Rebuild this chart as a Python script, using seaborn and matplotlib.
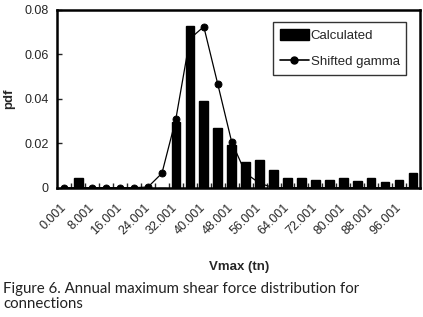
import matplotlib
matplotlib.use("Agg")
import matplotlib.pyplot as plt
import seaborn as sns
import pandas as pd
from matplotlib.patches import Patch
from matplotlib.lines import Line2D
from matplotlib.ticker import FixedLocator

categories = ["0.001", "4.001", "8.001", "12.001", "16.001", "20.001", "24.001",
              "28.001", "32.001", "36.001", "40.001", "44.001", "48.001", "52.001",
              "56.001", "60.001", "64.001", "68.001", "72.001", "76.001", "80.001",
              "84.001", "88.001", "92.001", "96.001", "100.001"]
calculated = [0.0, 0.0042, 0.0, 0.0, 0.0, 0.0, 0.0, 0.0, 0.0297, 0.0728, 0.039,
              0.027, 0.0192, 0.0116, 0.0125, 0.008, 0.0042, 0.0042, 0.0035, 0.0035,
              0.0042, 0.0028, 0.0042, 0.0024, 0.0035, 0.0066]
shifted_gamma = [0.0, 0.0, 0.0, 0.0, 0.0, 0.0, 0.0003, 0.0065, 0.031, 0.067, 0.0725,
                 0.0467, 0.0206, 0.0065, 0.002, 0.0, 0.0, 0.0, 0.0, 0.0, 0.0, 0.0,
                 0.0, 0.0, 0.0, 0.0]
tick_labels = [c if i % 2 == 0 else "" for i, c in enumerate(categories)]
yticks = [0, 0.02, 0.04, 0.06, 0.08]
ytick_labels = ["0", "0.02", "0.04", "0.06", "0.08"]

df = pd.DataFrame({"Vmax": categories, "Calculated": calculated, "Shifted gamma": shifted_gamma})

sns.set_theme(style="white")
plt.rcParams["font.family"] = ["Liberation Sans Narrow", "Liberation Sans", "DejaVu Sans"]

fig = plt.figure(figsize=(4.23, 3.17), dpi=100)
ax = fig.add_axes([0.1355, 0.4079, 0.8574, 0.5606])

sns.pointplot(data=df, x="Vmax", y="Shifted gamma", order=categories, color="black",
              markers="o", linestyles="-", markersize=5, linewidth=0.9, ax=ax)
sns.barplot(data=df, x="Vmax", y="Calculated", order=categories, color="black",
            saturation=1, width=0.62, ax=ax)
for p in ax.patches:
    p.set_zorder(3)
    p.set_edgecolor("black")

ax.set_xlim(-0.5, len(categories) - 0.5)
ax.set_ylim(0, 0.08)
ax.set_yticks(yticks)
ax.set_yticklabels(ytick_labels, fontsize=9)
ax.set_xticks(range(len(categories)))
ax.set_xticklabels(tick_labels, rotation=45, ha="right", va="center",
                   rotation_mode="anchor", fontsize=9)
ax.xaxis.set_minor_locator(FixedLocator([i + 0.5 for i in range(len(categories) - 1)]))
ax.tick_params(axis="x", which="major", length=0, pad=13)
ax.tick_params(axis="x", which="minor", direction="in", length=3.5, width=1, bottom=True)
ax.tick_params(axis="y", which="major", direction="in", length=3.5, width=1, left=True, pad=6)

for s in ax.spines.values():
    s.set_visible(True)
    s.set_color("black")
    s.set_linewidth(1.8)

ax.set_xlabel("Vmax (tn)", fontsize=9.5, fontweight="bold")
ax.xaxis.set_label_coords(0.5, -0.41)
ax.set_ylabel("pdf", fontsize=9.5, fontweight="bold")
ax.yaxis.set_label_coords(-0.115, 0.5)

handles = [Patch(facecolor="black", edgecolor="black"),
           Line2D([0], [0], color="black", marker="o", markersize=5, linewidth=1.2)]
leg = ax.legend(handles, ["Calculated", "Shifted gamma"], loc="upper right",
                bbox_to_anchor=(0.962, 0.93), fontsize=9.5, frameon=True, fancybox=False,
                edgecolor="black", handlelength=2.2, handleheight=0.9, handletextpad=0.15,
                borderpad=0.5, labelspacing=1.0, borderaxespad=0)
leg.get_frame().set_linewidth(1.0)

fig.text(0.008, 0.066, "Figure 6. Annual maximum shear force distribution for\nconnections",
         fontsize=10.8, family=["Lato", "DejaVu Sans"], color="#222222",
         ha="left", va="center", linespacing=1.1)

fig.savefig("out.png", dpi=100, facecolor="white")
